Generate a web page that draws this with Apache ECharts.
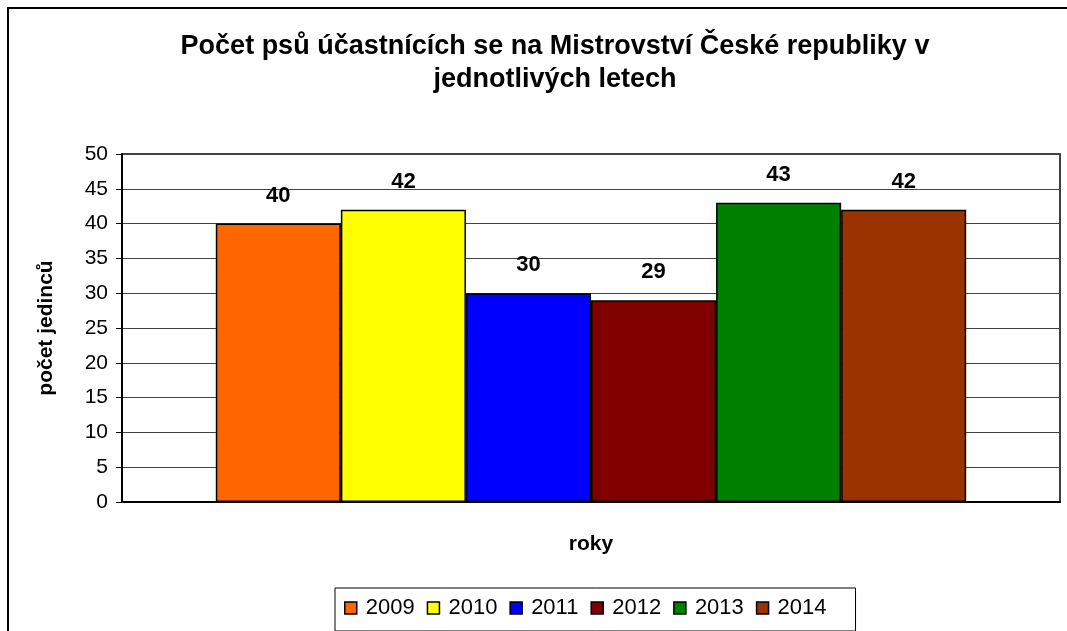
<!DOCTYPE html>
<html>
<head>
<meta charset="utf-8">
<script src="https://cdn.jsdelivr.net/npm/echarts@6/dist/echarts.min.js"></script>
<style>
  html, body { margin: 0; padding: 0; background: #fff; }
  #chart { width: 1067px; height: 631px; }
</style>
</head>
<body>
<div id="chart"></div>
<script>
// data
const years = ['2009', '2010', '2011', '2012', '2013', '2014']
const counts = [40, 42, 30, 29, 43, 42]
const colors = ['#FF6600', '#FFFF00', '#0000FF', '#800000', '#008000', '#993300']
const category = ['']

const font = 'Liberation Sans, Arial, sans-serif'

let chart = echarts.init(document.getElementById('chart'), null, { renderer: 'canvas' })

let series = years.map((y, i) => ({
  name: y,
  type: 'bar',
  data: [counts[i]],
  barGap: '0%',
  barCategoryGap: '20%',
  itemStyle: {
    color: colors[i],
    borderColor: '#000',
    borderWidth: 1.5
  },
  label: {
    show: true,
    position: 'top',
    distance: 17,
    color: '#000',
    fontFamily: font,
    fontWeight: 'bold',
    fontSize: 22
  },
  animation: false
}))

let option = {
  backgroundColor: '#fff',
  animation: false,
  title: {
    text: 'Počet psů účastnících se na Mistrovství České republiky v\njednotlivých letech',
    left: 550,
    textAlign: 'center',
    top: 25,
    textStyle: {
      fontFamily: font,
      fontWeight: 'bold',
      fontSize: 27,
      lineHeight: 33,
      color: '#000'
    }
  },
  grid: {
    left: 122,
    top: 154,
    right: 7,
    bottom: 129,
    show: true,
    borderColor: '#000',
    borderWidth: 1.5,
    backgroundColor: '#fff'
  },
  legend: {
    data: years,
    left: 335,
    top: 588,
    width: 560,
    padding: [9, 29, 12, 9],
    borderColor: '#000',
    borderWidth: 1,
    itemWidth: 12,
    itemHeight: 12,
    itemGap: 12,
    icon: 'rect',
    itemStyle: { borderColor: '#000', borderWidth: 1.5 },
    textStyle: {
      fontFamily: font,
      fontSize: 22,
      color: '#000',
      padding: [0, 0, 0, 4]
    }
  },
  xAxis: {
    type: 'category',
    data: category,
    name: 'roky',
    nameLocation: 'middle',
    nameGap: 32,
    nameTextStyle: {
      fontFamily: font,
      fontWeight: 'bold',
      fontSize: 21,
      color: '#000'
    },
    axisLine: { lineStyle: { color: '#000', width: 2 } },
    axisTick: { show: false },
    axisLabel: { show: false }
  },
  yAxis: {
    type: 'value',
    min: 0,
    max: 50,
    interval: 5,
    name: 'počet jedinců',
    nameLocation: 'middle',
    nameGap: 65,
    nameTextStyle: {
      fontFamily: font,
      fontWeight: 'bold',
      fontSize: 21,
      color: '#000'
    },
    axisLine: { show: true, lineStyle: { color: '#000', width: 2 } },
    axisTick: { show: true, length: 6, lineStyle: { color: '#000' } },
    axisLabel: {
      fontFamily: font,
      fontSize: 21,
      color: '#000',
      margin: 14
    },
    splitLine: { show: true, lineStyle: { color: '#444', width: 1 } }
  },
  graphic: [{
    type: 'rect',
    z: 100,
    silent: true,
    shape: { x: 8, y: 8, width: 1100, height: 700 },
    style: { fill: 'none', stroke: '#000', lineWidth: 2 }
  }],
  series: series
}

chart.setOption(option)
</script>
</body>
</html>
